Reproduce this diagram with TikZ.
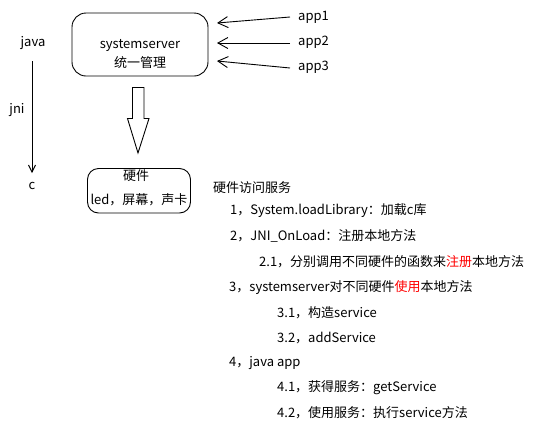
\documentclass[tikz,border=0pt]{standalone}
\usepackage{fontspec}
\setmainfont{Noto Sans CJK SC}
\usetikzlibrary{arrows.meta}
\begin{document}
\begin{tikzpicture}[x=1pt,y=-1pt,
  lbl/.style={inner sep=0pt,font=\fontsize{13}{15}\selectfont},
  item/.style={lbl,anchor=west},
  rbox/.style={draw,line width=0.9pt,rounded corners=14pt},
  barb/.style={line width=0.9pt,-{Straight Barb[length=10pt,width=11pt,line width=0.9pt]}},
  smallbarb/.style={line width=0.9pt,-{Straight Barb[length=7pt,width=7pt,line width=0.9pt]}}]
\useasboundingbox (0,0) rectangle (549,429);
% left java -> c
\node[lbl] (java) at (33,43) {java};
\node[lbl] (jni) at (17,110) {jni};
\node[lbl] (c) at (32,186) {c};
\coordinate (jtop) at (32,61);
\coordinate (jbot) at (32,173);
\draw[smallbarb] (jtop) -- (jbot);
% systemserver box
\node[rbox,minimum width=136pt,minimum height=63pt] (ss) at (140,44.5) {};
\node[lbl] (ss1) at (140,45) {systemserver};
\node[lbl] (ss2) at (140,63) {统一管理};
% apps
\node[lbl,anchor=west] (app1) at (298,17) {app1};
\node[lbl,anchor=west] (app2) at (298,42) {app2};
\node[lbl,anchor=west] (app3) at (298,67) {app3};
\coordinate (a1) at (217,23);
\coordinate (a2) at (217,43);
\coordinate (a3) at (217,61);
\draw[barb] (290,17) -- (a1);
\draw[barb] (290,43) -- (a2);
\draw[barb] (290,68) -- (a3);
% hollow arrow
\draw[line width=0.9pt] (132.5,87.5) -- (144,87.5) -- (144,118.5) -- (149,118.5) -- (138,153) -- (127.5,118.5) -- (132.5,118.5) -- cycle;
% hardware box
\draw[rbox,rounded corners=11pt] (87.5,168.5) rectangle (190.5,213) node[coordinate] (hwc) {};
\node[lbl] (hw1) at (136,176) {硬件};
\node[lbl] (hw2) at (139,200) {led，屏幕，声卡};
% list
\node[item] (t0) at (213,188) {硬件访问服务};
\node[item] (t1) at (230,211) {1，System.loadLibrary：加载c库};
\node[item] (t2) at (230,236) {2，JNI\_OnLoad：注册本地方法};
\node[item] (t21) at (259,262) {2.1，分别调用不同硬件的函数来\textcolor{red}{注册}本地方法};
\node[item] (t3) at (229,288) {3，systemserver对不同硬件\textcolor{red}{使用}本地方法};
\node[item] (t31) at (277,313) {3.1，构造service};
\node[item] (t32) at (277,338) {3.2，addService};
\node[item] (t4) at (229,363) {4，java app};
\node[item] (t41) at (277,388) {4.1，获得服务：getService};
\node[item] (t42) at (277,413) {4.2，使用服务：执行service方法};
\end{tikzpicture}
\end{document}
